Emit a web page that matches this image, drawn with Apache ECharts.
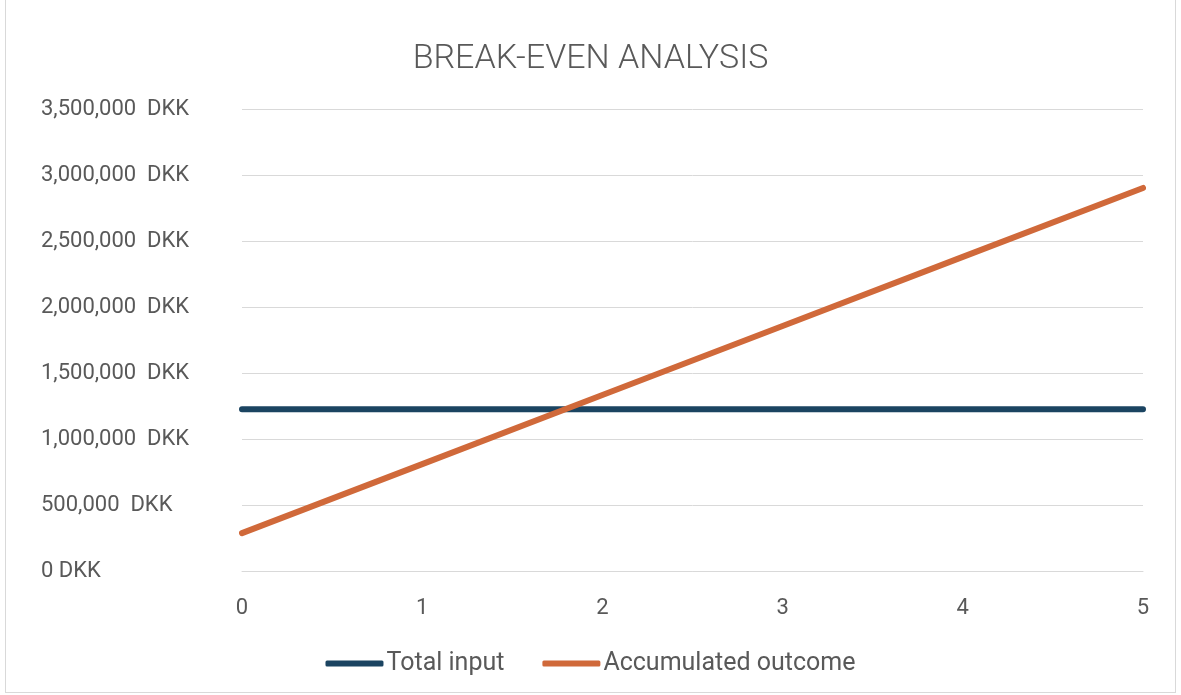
<!DOCTYPE html>
<html>
<head>
<meta charset="utf-8">
<title>Break-even analysis</title>
<script src="https://cdn.jsdelivr.net/npm/echarts@6/dist/echarts.min.js"></script>
<style>
  html, body { margin: 0; padding: 0; background: #fff; }
  #main { position: absolute; left: 5px; top: 0; width: 1171px; height: 693px;
          border: 1px solid #d9d9d9; border-top: none; box-sizing: border-box; }
</style>
</head>
<body>
<div id="main"></div>
<script>
  // years after start
  var years = ['0', '1', '2', '3', '4', '5'];
  // DKK
  var totalInput = [1225000, 1225000, 1225000, 1225000, 1225000, 1225000];
  var accumulatedOutcome = [287000, 810000, 1333000, 1856000, 2380000, 2902000];
  var seriesNames = ['Total input', 'Accumulated outcome'];

  var chart = echarts.init(document.getElementById('main'));
  var textColor = '#595959';
  var fontFamily = 'Roboto, "DejaVu Sans", sans-serif';

  function fmtDKK(v) {
    return v.toString().replace(/\B(?=(\d{3})+(?!\d))/g, ',') + (v === 0 ? ' DKK' : '  DKK');
  }

  var option = {
    color: ['#1b4461', '#d0693a'],
    title: {
      text: 'BREAK-EVEN ANALYSIS',
      left: 'center',
      top: 37,
      textStyle: { color: textColor, fontSize: 34, fontWeight: 300, fontFamily: fontFamily }
    },
    legend: {
      data: seriesNames,
      bottom: 11,
      left: 'center',
      icon: 'roundRect',
      itemWidth: 58,
      itemHeight: 6,
      itemGap: 38,
      textStyle: { color: textColor, fontSize: 25, fontFamily: fontFamily, padding: [0, 0, 0, -2] }
    },
    grid: { left: 236, right: 32, top: 109, bottom: 121 },
    xAxis: {
      type: 'category',
      data: years,
      boundaryGap: false,
      axisLine: { show: true, lineStyle: { color: '#d9d9d9' } },
      axisTick: { show: false },
      axisLabel: { color: textColor, fontSize: 22, fontFamily: fontFamily, margin: 26 }
    },
    yAxis: {
      type: 'value',
      min: 0,
      max: 3500000,
      interval: 500000,
      axisLine: { show: false },
      axisTick: { show: false },
      splitLine: { lineStyle: { color: '#d9d9d9', width: 1 } },
      axisLabel: {
        align: 'left',
        margin: 201,
        color: textColor,
        fontSize: 22,
        fontFamily: fontFamily,
        formatter: fmtDKK
      }
    },
    series: [
      {
        name: seriesNames[0],
        type: 'line',
        data: totalInput,
        symbol: 'none',
        lineStyle: { width: 6, cap: 'round' }
      },
      {
        name: seriesNames[1],
        type: 'line',
        data: accumulatedOutcome,
        symbol: 'none',
        lineStyle: { width: 6, cap: 'round' }
      }
    ]
  };

  chart.setOption(option);
</script>
</body>
</html>
